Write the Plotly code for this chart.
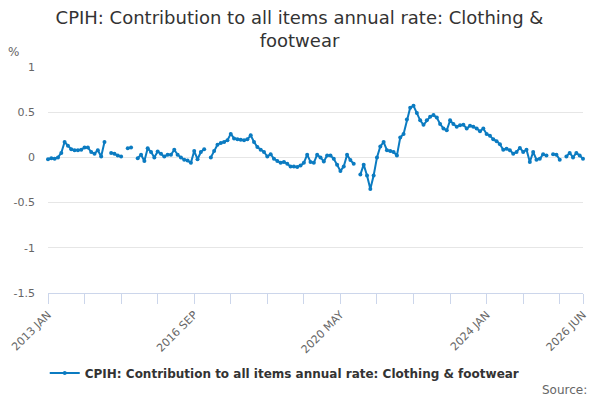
import plotly.graph_objects as go

month_names = ["JAN", "FEB", "MAR", "APR", "MAY", "JUN",
               "JUL", "AUG", "SEP", "OCT", "NOV", "DEC"]
months = [str(y) + " " + m for y in range(2013, 2027) for m in month_names][:162]

# values, one row per year (None = gap)
values = [
    -0.02, -0.01, -0.015, 0.0, 0.05, 0.17, 0.13, 0.09, 0.08, 0.08, 0.085, 0.11,
    0.11, 0.06, 0.04, 0.08, 0.01, 0.17, None, 0.05, 0.04, 0.02, 0.01, None,
    0.1, 0.11, None, -0.01, 0.03, -0.04, 0.1, 0.06, 0.0, 0.065, 0.04, 0.01,
    0.03, 0.03, 0.085, 0.03, 0.0, -0.025, -0.035, -0.06, 0.07, -0.02, 0.06, 0.09,
    None, 0.0, 0.07, 0.14, 0.16, 0.17, 0.19, 0.26, 0.21, 0.2, 0.195, 0.19,
    0.2, 0.245, 0.17, 0.115, 0.085, 0.06, 0.01, 0.035, -0.015, -0.04, -0.06, -0.05,
    -0.07, -0.1, -0.1, -0.105, -0.09, -0.06, 0.03, -0.05, -0.06, 0.03, 0.0, -0.045,
    0.02, 0.02, -0.015, -0.08, -0.15, -0.1, 0.03, -0.03, -0.07, None, -0.19, -0.08,
    -0.2, -0.35, -0.2, 0.0, 0.12, 0.17, 0.08, 0.07, 0.06, 0.02, 0.22, 0.26,
    0.42, 0.55, 0.57, 0.49, 0.41, 0.36, 0.41, 0.45, 0.47, 0.44, 0.37, 0.32,
    0.3, 0.41, 0.37, 0.34, 0.355, 0.36, 0.32, 0.35, 0.34, 0.32, 0.29, 0.32,
    0.26, 0.24, 0.2, 0.18, 0.145, 0.085, 0.095, 0.08, 0.04, 0.06, 0.105, 0.06,
    0.085, -0.05, 0.06, -0.025, -0.015, 0.035, 0.02, None, 0.035, 0.03, -0.025, None,
    0.01, 0.05, 0.0, 0.05, 0.02, -0.015,
]

tick_labels = ["2013 JAN", "2016 SEP", "2020 MAY", "2024 JAN", "2026 JUN"]
y_ticks = [1, 0.5, 0, -0.5, -1, -1.5]
y_tick_text = ["1", "0.5", "0", "-0.5", "-1", "-1.5"]

series_name = "CPIH: Contribution to all items annual rate: Clothing & footwear"
blue = "#0b7bc1"

# a tick every 11 months plus the last month, label only some of them
tick_idx = list(range(0, len(months), 11)) + [len(months) - 1]
tickvals = [months[i] for i in tick_idx]
ticktext = [months[i] if months[i] in tick_labels else "" for i in tick_idx]

fig = go.Figure()
fig.add_trace(go.Scatter(
    x=months, y=values, name=series_name, mode="lines+markers",
    line=dict(color=blue, width=2),
    marker=dict(color=blue, size=4),
    connectgaps=False, cliponaxis=False,
))

# page body has an 8px margin, so the figure is 8px smaller each way
fig.update_layout(
    width=592, height=392,
    paper_bgcolor="white", plot_bgcolor="white",
    margin=dict(l=40, r=17, t=59, b=107, autoexpand=False),
    font=dict(family="DejaVu Sans", color="#666666"),
    title=dict(text="CPIH: Contribution to all items annual rate: Clothing &<br>footwear",
               x=0.4924, xanchor="center", y=0.96, yanchor="middle",
               font=dict(size=18, color="#333333")),
    showlegend=True,
    legend=dict(orientation="h", x=0.4425, xanchor="center", y=-0.354, yanchor="middle",
                itemwidth=30,
                font=dict(size=12, color="#333333", weight="bold")),
)
fig.update_xaxes(
    type="category", range=[0, len(months) - 1], automargin=False,
    tickmode="array", tickvals=tickvals, ticktext=ticktext,
    tickangle=-45, tickfont=dict(size=11, color="#666666"),
    ticks="outside", ticklen=10, tickcolor="#ccd6eb",
    showline=True, linecolor="#ccd6eb", linewidth=1,
    showgrid=False, zeroline=False,
)
fig.update_yaxes(
    range=[-1.5, 1], tickvals=y_ticks, ticktext=y_tick_text, automargin=False,
    tickfont=dict(size=11, color="#666666"),
    showgrid=True, gridcolor="#e6e6e6", zeroline=False,
    ticklabelstandoff=12,
)
fig.add_annotation(text="%", xref="paper", yref="paper", x=-0.064, y=1.066,
                   xanchor="center", yanchor="middle", showarrow=False,
                   font=dict(size=12, color="#666666"))
fig.add_annotation(text="Source:", xref="paper", yref="paper", x=1.011, y=-0.429,
                   xanchor="right", yanchor="middle", showarrow=False,
                   font=dict(size=12, color="#666666"))

fig.write_html("out.html")
